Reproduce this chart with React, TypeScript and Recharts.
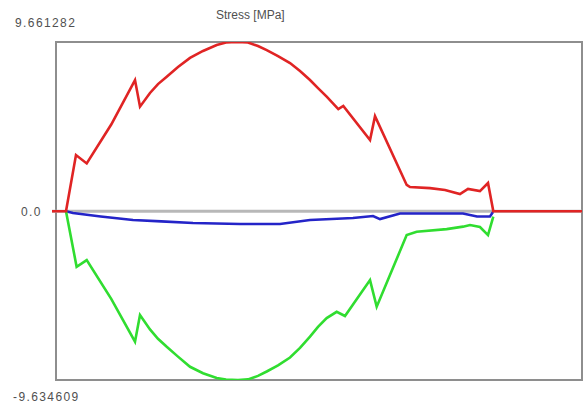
import React from "react";
import { LineChart, Line, XAxis, YAxis, ReferenceArea, ReferenceLine } from "recharts";

const yMax = 9.661282;
const yMin = -9.634609;
const title = "Stress [MPa]";
const maxLabel = "9.661282";
const zeroLabel = "0.0";
const minLabel = "-9.634609";

// Position along the member (0..100) and stress values
const maxStressX = [-0.76, 1.9, 3.8, 5.84, 10.5, 15.02, 15.97, 17.87, 19.39, 21.05, 23.19, 25.48, 27.95, 30.55, 32.32, 34.41, 36.5, 38.4, 40.06, 42.21, 44.49, 46.39, 48.29, 49.81, 51.46, 53.67, 54.62, 59.7, 60.65, 66.67, 67.3, 71.1, 73.95, 76.8, 78.33, 80.6, 82.13, 83.14, 100];
const maxStress = [0, 0, 3.21, 2.73, 4.95, 7.49, 5.97, 6.75, 7.26, 7.68, 8.23, 8.75, 9.15, 9.49, 9.63, 9.661282, 9.63, 9.43, 9.2, 8.86, 8.46, 8.0, 7.49, 7.03, 6.54, 5.83, 6.01, 4.06, 5.43, 1.5, 1.38, 1.32, 1.21, 0.98, 1.27, 1.15, 1.61, 0, 0];

const minStressX = [1.9, 3.92, 5.84, 10.5, 15.02, 15.97, 17.87, 19.39, 21.05, 23.19, 25.48, 27.95, 30.55, 32.32, 34.6, 36.5, 38.4, 40.06, 42.21, 44.49, 46.39, 48.29, 49.81, 51.46, 53.36, 54.94, 59.7, 60.97, 66.67, 68.57, 74.27, 77.38, 78.71, 80.6, 82.13, 83.14];
const minStress = [0, -3.17, -2.79, -5.0, -7.45, -5.93, -6.75, -7.28, -7.74, -8.3, -8.88, -9.25, -9.52, -9.61, -9.634609, -9.6, -9.4, -9.15, -8.8, -8.35, -7.8, -7.16, -6.6, -6.1, -5.74, -5.98, -3.93, -5.45, -1.36, -1.17, -1.02, -0.88, -0.79, -0.9, -1.36, -0.31];

const avgStressX = [1.9, 3.23, 8.5, 14.64, 20.0, 26.05, 34.98, 42.59, 48.29, 56.46, 60.27, 61.6, 65.4, 77.38, 80.04, 82.5, 83.08];
const avgStress = [0, -0.1, -0.3, -0.5, -0.58, -0.67, -0.73, -0.73, -0.5, -0.39, -0.27, -0.45, -0.13, -0.13, -0.3, -0.3, -0.05];

const toPoints = (xs: number[], ys: number[]) => xs.map((x, i) => ({ x, y: ys[i] }));
const maxData = toPoints(maxStressX, maxStress);
const minData = toPoints(minStressX, minStress);
const avgData = toPoints(avgStressX, avgStress);

const textStyle: React.CSSProperties = {
  position: "absolute",
  fontFamily: "'Liberation Sans', Arial, sans-serif",
  fontSize: 12,
  lineHeight: "14px",
  color: "#505050",
  whiteSpace: "nowrap",
};

const numStyle: React.CSSProperties = { ...textStyle, letterSpacing: "1.4px" };

export default function App() {
  return (
    <div style={{ position: "absolute", left: 0, top: 0, width: 584, height: 407, background: "#fff" }}>
      <LineChart width={584} height={407} margin={{ top: 42, right: 2, bottom: 27, left: 52 }}>
        <XAxis type="number" dataKey="x" domain={[-0.76, 100]} allowDataOverflow hide />
        <YAxis type="number" domain={[yMin, yMax]} allowDataOverflow hide />
        <ReferenceArea x1={0} x2={100} y1={yMin} y2={yMax} fill="none" fillOpacity={0} stroke="#8e8e8e" strokeWidth={2} ifOverflow="visible" />
        <ReferenceLine y={0} stroke="#b8b8b8" strokeWidth={3} />
        <Line data={avgData} dataKey="y" type="linear" stroke="#2424c8" strokeWidth={2.6} dot={false} isAnimationActive={false} />
        <Line data={minData} dataKey="y" type="linear" stroke="#30dd30" strokeWidth={2.6} dot={false} isAnimationActive={false} />
        <Line data={maxData} dataKey="y" type="linear" stroke="#e02424" strokeWidth={2.6} dot={false} isAnimationActive={false} />
      </LineChart>
      <div style={{ ...textStyle, left: 216, top: 8 }}>{title}</div>
      <div style={{ ...numStyle, left: 15, top: 16 }}>{maxLabel}</div>
      <div style={{ ...numStyle, left: 21, top: 205 }}>{zeroLabel}</div>
      <div style={{ ...numStyle, left: 13, top: 390 }}>{minLabel}</div>
    </div>
  );
}
